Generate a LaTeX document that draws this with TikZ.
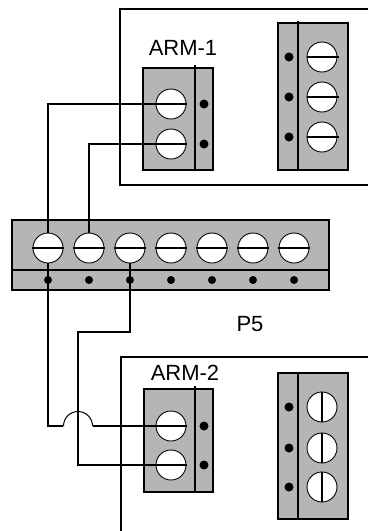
\documentclass[tikz,border=0pt]{standalone}
\usepackage{fontspec}
\setmainfont{Liberation Sans}
\usetikzlibrary{calc}
\definecolor{blockgray}{gray}{0.71}

\begin{document}
\begin{tikzpicture}[x=1pt, y=-1pt, line join=miter,
	font=\fontsize{22}{26}\selectfont,
	block/.style={draw, line width=2pt, fill=blockgray},
	screw/.style={circle, draw, line width=0.9pt, fill=white,
		minimum size=30pt, inner sep=0pt},
	slot/.style={line width=2pt},
	wire/.style={line width=2pt}]
	
	\useasboundingbox (0,0) rectangle (368,531);
	
	%========================
	% Top panel: ARM-1
	%========================
	\draw[wire] (368,9) -| (120,185) -- (368,185);
	\node (arm1) at (183,48) {ARM-1};
	
	% two-way block
	\draw[block] (143,68) rectangle (213,170);
	\draw[wire] (195,65) -- (195,170);
	\node[screw] (a1) at (171,104) {};
	\node[screw] (a2) at (171,144) {};
	\fill (204,104) circle (4.5) (204,144) circle (4.5);
	
	% three-way block
	\draw[block] (278,23) rectangle (348,170);
	\draw[wire] (298,21) -- (298,170);
	\node[screw] (ta) at (322,57) {};
	\node[screw] (tb) at (322,97) {};
	\node[screw] (tc) at (322,137) {};
	\draw[slot] (ta.west) -- ([xshift=1.5pt]ta.east);
	\draw[slot] (tb.west) -- ([xshift=1.5pt]tb.east);
	\draw[slot] (tc.west) -- ([xshift=1.5pt]tc.east);
	\fill (289,57) circle (4.5) (289,97) circle (4.5) (289,137) circle (4.5);
	
	%========================
	% Middle: P5 strip
	%========================
	\draw[block] (12,220) rectangle (329,290);
	\draw[wire] (12,270) -- (329,270);
	\foreach \i in {1,...,7} {
		\node[screw] (b\i) at ({48+41*(\i-1)},248) {};
		\draw[slot] ([xshift=-1pt]b\i.west) -- ([xshift=1pt]b\i.east);
		\fill ({48+41*(\i-1)},280) circle (4);
	}
	\node (p5) at (250,324) {P5};
	
	%========================
	% Bottom panel: ARM-2
	%========================
	\draw[wire] (368,357) -| (121,531);
	\node (arm2) at (185,373) {ARM-2};
	
	% two-way block
	\draw[block] (144,389) rectangle (213,492);
	\draw[wire] (195,386) -- (195,492);
	\node[screw] (c1) at (171,426) {};
	\node[screw] (c2) at (171,465) {};
	\fill (204,426) circle (4.5) (204,465) circle (4.5);
	
	% three-way block
	\draw[block] (278,373) rectangle (348,519);
	\draw[wire] (298,373) -- (298,519);
	\node[screw] (ua) at (322,407) {};
	\node[screw] (ub) at (322,448) {};
	\node[screw] (uc) at (322,487) {};
	\draw[slot] (ua.north) -- (ua.south);
	\draw[slot] (ub.north) -- (ub.south);
	\draw[slot] (uc.north) -- (uc.south);
	\fill (289,407) circle (4.5) (289,448) circle (4.5) (289,487) circle (4.5);
	
	%========================
	% Wiring
	%========================
	\coordinate (bend) at (78,332);
	\coordinate (hop) at (bend |- c1);
	\draw[wire] (b1.north) |- ([xshift=1pt]a1.east);
	\draw[wire] (b2.north) |- ([xshift=1pt]a2.east);
	\draw[wire] (b3.south) |- (bend) |- ([xshift=1pt]c2.east);
	\draw[wire] (b1.south) |- ($(hop)+(-15,0)$);
	\draw[line width=1pt] ($(hop)+(-14.5,0)$)
		arc[start angle=180, end angle=0, radius=14.5pt];
	\draw[wire] ($(hop)+(15,0)$) -- ([xshift=1pt]c1.east);
	
\end{tikzpicture}
\end{document}
